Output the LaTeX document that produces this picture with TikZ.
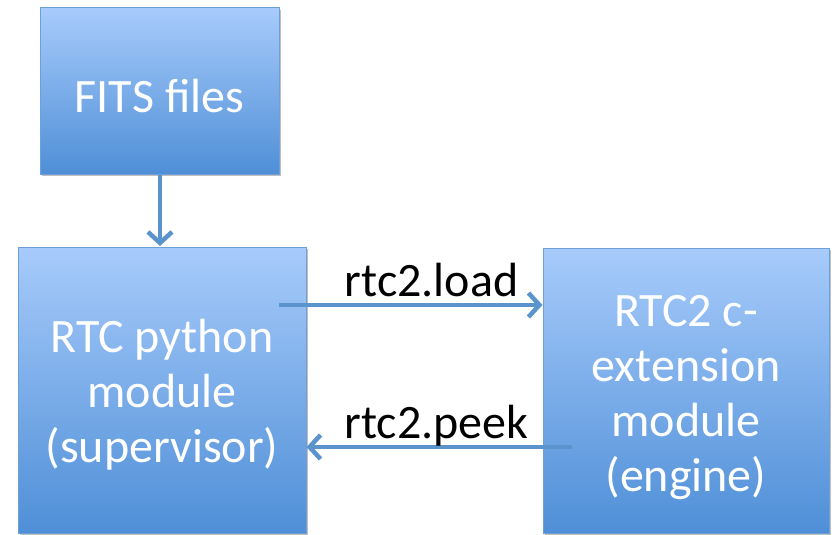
\documentclass[tikz,border=0pt]{standalone}
\usepackage{fontspec}
\setmainfont{Carlito}
\usetikzlibrary{arrows.meta,shadows}
\definecolor{boxtop}{HTML}{A7CBFB}
\definecolor{boxbot}{HTML}{4F8FD7}
\definecolor{boxline}{HTML}{6E9FD8}
\definecolor{arrowc}{HTML}{5B93CC}
\tikzset{
  blockbox/.style={draw=boxline, line width=1pt, top color=boxtop, bottom color=boxbot,
    inner sep=0pt,
    drop shadow={shadow xshift=2pt, shadow yshift=-2pt, opacity=0.25, fill=black}},
  boxtext/.style={text=white, font=\fontsize{48}{55}\selectfont, align=center, inner sep=0pt},
  flow/.style={draw=arrowc, line width=4.5pt, -{Straight Barb[length=11pt,width=24pt,line width=4.5pt]}},
  lbl/.style={font=\fontsize{48}{55}\selectfont, text=black, inner sep=0pt, anchor=base}
}
\begin{document}
\begin{tikzpicture}[x=1pt,y=-1pt]
\useasboundingbox (0,0) rectangle (832,535);
\node[blockbox, minimum width=239pt, minimum height=166pt] (fits) at (159.5,91) {};
\node[blockbox, minimum width=288pt, minimum height=286pt] (py) at (162,390) {};
\node[blockbox, minimum width=286pt, minimum height=285pt] (cx) at (686,390.5) {};
\node[boxtext] (fitst) at ([yshift=-5pt]fits.center) {FITS files};
\node[boxtext] (pyt) at ([yshift=-5pt]py.center) {RTC python\\module\\(supervisor)};
\node[boxtext] (cxt) at ([yshift=-7pt]cx.center) {RTC2 c-\\extension\\module\\(engine)};
\coordinate (ls) at (279,305);
\coordinate (ps) at (572,447);
\draw[flow] (fits.south -| 160,0) -- (160,246);
\draw[flow] (ls) -- (ls -| cx.west);
\draw[flow] (ps) -- (ps -| py.east);
\node[lbl] (load) at (431.5,296) {rtc2.load};
\node[lbl] (peek) at (436.5,438) {rtc2.peek};
\end{tikzpicture}
\end{document}
